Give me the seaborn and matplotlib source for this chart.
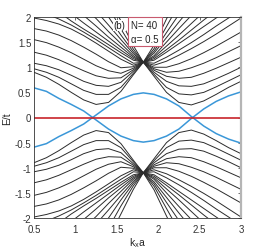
import numpy as np
import pandas as pd
import seaborn as sns
import matplotlib.pyplot as plt

nan = np.nan

# k_x a sample points (node of the cones sits at 1.82)
kx = [0.5, 0.65, 0.8, 0.95, 1.1, 1.25, 1.4, 1.55, 1.7, 1.82,
      1.95, 2.1, 2.25, 2.4, 2.55, 2.7, 2.85, 3.0]

# bulk bands with E > 0 (lower half is its mirror image)
bulk_upper = [
    [0.90, 0.80, 0.66, 0.50, 0.35, 0.26, 0.30, 0.52, 0.85, 1.10, 0.82, 0.50, 0.30, 0.25, 0.33, 0.46, 0.60, 0.72],
    [0.97, 0.90, 0.80, 0.67, 0.54, 0.46, 0.46, 0.60, 0.88, 1.10, 0.86, 0.60, 0.47, 0.45, 0.50, 0.61, 0.73, 0.85],
    [1.08, 1.03, 0.95, 0.84, 0.72, 0.64, 0.62, 0.70, 0.92, 1.10, 0.90, 0.72, 0.63, 0.62, 0.67, 0.77, 0.88, 1.00],
    [1.30, 1.24, 1.15, 1.04, 0.93, 0.83, 0.78, 0.79, 0.95, 1.10, 0.94, 0.82, 0.78, 0.80, 0.88, 0.98, 1.09, 1.20],
    [1.55, 1.49, 1.40, 1.29, 1.16, 1.03, 0.93, 0.88, 0.98, 1.10, 0.97, 0.90, 0.92, 0.99, 1.08, 1.19, 1.31, 1.43],
    [1.77, 1.72, 1.64, 1.53, 1.40, 1.26, 1.11, 0.99, 1.01, 1.10, 1.00, 1.00, 1.07, 1.17, 1.29, 1.42, 1.56, 1.70],
    [1.98, 1.93, 1.86, 1.76, 1.63, 1.48, 1.32, 1.16, 1.04, 1.10, 1.04, 1.12, 1.24, 1.37, 1.51, 1.66, 1.82, 1.98],
    [2.14, 2.06, 1.96, 1.84, 1.70, 1.55, 1.39, 1.23, 1.08, 1.10, 1.08, 1.20, 1.34, 1.49, 1.65, 1.82, 1.98, 2.15],
    [2.50, 2.30, 2.10, 1.92, 1.76, 1.61, 1.45, 1.29, 1.14, 1.10, 1.14, 1.30, 1.47, 1.64, 1.81, 1.98, 2.15, 2.30],
    [nan, nan, 2.30, 2.07, 1.88, 1.70, 1.52, 1.34, 1.17, 1.10, 1.17, 1.35, 1.54, 1.74, 1.94, 2.13, 2.30, nan],
    [nan, nan, nan, 2.25, 2.03, 1.82, 1.60, 1.40, 1.20, 1.10, 1.20, 1.42, 1.64, 1.87, 2.10, 2.30, nan, nan],
    [nan, nan, nan, nan, 2.20, 1.97, 1.71, 1.47, 1.23, 1.10, 1.23, 1.50, 1.77, 2.03, 2.30, nan, nan, nan],
    [nan, nan, nan, nan, nan, 2.12, 1.84, 1.55, 1.27, 1.10, 1.28, 1.59, 1.90, 2.20, nan, nan, nan, nan],
    [nan, nan, nan, nan, nan, 2.30, 2.00, 1.64, 1.31, 1.10, 1.32, 1.69, 2.05, nan, nan, nan, nan, nan],
    [nan, nan, nan, nan, nan, nan, 2.20, 1.76, 1.36, 1.10, 1.37, 1.81, 2.25, nan, nan, nan, nan, nan],
    [nan, nan, nan, nan, nan, nan, 2.40, 1.92, 1.43, 1.10, 1.44, 1.96, 2.45, nan, nan, nan, nan, nan],
]

# dispersive edge band (blue), its partner is the mirror image
edge_band = [0.59, 0.52, 0.38, 0.26, 0.13, -0.05, -0.23, -0.37, -0.46, -0.49,
             -0.46, -0.37, -0.23, -0.02, 0.17, 0.32, 0.43, 0.51]

# flat band (red)
flat_band = [0.0] * len(kx)

rows = []
for i, band in enumerate(bulk_upper):
    for k, e in zip(kx, band):
        rows.append({'kx': k, 'E': e, 'band': f'up{i}'})
        rows.append({'kx': k, 'E': -e, 'band': f'dn{i}'})
bulk = pd.DataFrame(rows).dropna()

edge = pd.DataFrame({
    'kx': kx + kx,
    'E': edge_band + [-e for e in edge_band],
    'band': ['a'] * len(kx) + ['b'] * len(kx),
})
flat = pd.DataFrame({'kx': kx, 'E': flat_band})

sns.set_style('white')
plt.rcParams['font.family'] = ['Liberation Sans', 'DejaVu Sans']
plt.rcParams['mathtext.fontset'] = 'custom'
plt.rcParams['mathtext.rm'] = 'Liberation Sans'

fig = plt.figure(figsize=(2.66, 2.51), dpi=100)
ax = fig.add_axes([34 / 266, 32 / 251, 207 / 266, 201 / 251])

sns.lineplot(data=bulk, x='kx', y='E', units='band', estimator=None, sort=False,
             color='#2b2b2b', lw=0.7, ax=ax)
sns.lineplot(data=edge, x='kx', y='E', units='band', estimator=None, sort=False,
             color='#3a97d8', lw=1.1, ax=ax)
sns.lineplot(data=flat, x='kx', y='E', estimator=None, color='#c8242b', lw=1.2, ax=ax)

ax.set_xlim(0.5, 3)
ax.set_ylim(-2, 2)
ax.set_xticks([0.5, 1, 1.5, 2, 2.5, 3])
ax.set_xticklabels(['0.5', '1', '1.5', '2', '2.5', '3'])
ax.set_yticks([-2, -1.5, -1, -0.5, 0, 0.5, 1, 1.5, 2])
ax.set_yticklabels(['-2', '-1.5', '-1', '-0.5', '0', '0.5', '1', '1.5', '2'])
ax.tick_params(direction='in', length=2.5, width=0.5, top=True, right=True,
               labelsize=7, colors='#333333')
ax.tick_params(axis='x', pad=4)
ax.tick_params(axis='y', pad=2)
for side in ['left', 'bottom', 'top']:
    ax.spines[side].set_color('#333333')
    ax.spines[side].set_linewidth(0.6)
ax.spines['right'].set_color('#b5b5b5')
ax.spines['right'].set_linewidth(1.6)

ax.set_xlabel(r'k$_\mathrm{x}$a', fontsize=7.5, labelpad=1)
ax.set_ylabel('E/t', fontsize=7.5, labelpad=2)

ax.text(1.675, 1.71, 'N= 40\n\u03b1= 0.5', fontsize=7, ha='left', va='center',
        linespacing=1.5, color='#222222', zorder=5,
        bbox=dict(boxstyle='square,pad=0.3', fc='white', ec='#c85a6e', lw=0.8))
ax.text(1.53, 1.84, '(b)', fontsize=7, ha='center', va='center', color='#222222',
        zorder=6, bbox=dict(boxstyle='square,pad=0.05', fc='white', ec='none'))

fig.savefig('out.png', dpi=100)
